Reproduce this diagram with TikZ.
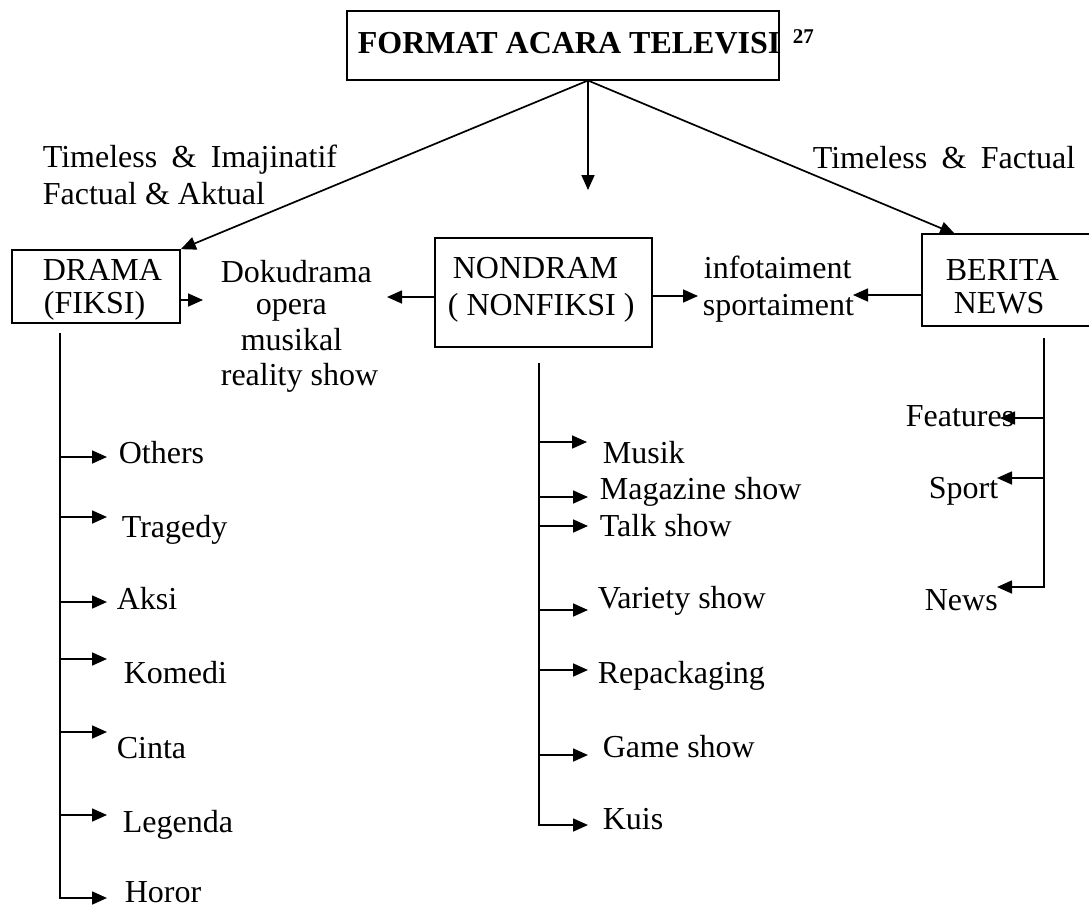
\documentclass[tikz,border=0pt]{standalone}
\usepackage{fontspec}
\setmainfont{Liberation Serif}
\usetikzlibrary{arrows.meta}
\begin{document}
\begin{tikzpicture}[x=1pt,y=-1pt,line width=1.7pt,line join=miter,
  txt/.style={anchor=base west,inner sep=0pt,font=\fontsize{32}{33}\selectfont},
  arr/.style={-{Triangle[length=15pt,width=13pt]}},
  boxshape/.style={draw,inner sep=0pt}]
\useasboundingbox (0,0) rectangle (1089,908);
% title
\node[boxshape,minimum width=432pt,minimum height=69pt] (titlebox) at (563,45.5) {};
\node[anchor=base west,inner sep=0pt,font=\bfseries\fontsize{32}{34}\selectfont] (title) at (357,53) {FORMAT ACARA TELEVISI};
\node[anchor=base west,inner sep=0pt,font=\bfseries\fontsize{21}{22}\selectfont] (sup) at (792,43) {27};
\coordinate (apex) at (588,80.5);
% boxes
\node[boxshape,minimum width=168pt,minimum height=73pt] (dramabox) at (96,286.5) {};
\node[boxshape,minimum width=217pt,minimum height=109pt] (nonbox) at (543.5,292.5) {};
\node[inner sep=0pt,minimum width=166pt,minimum height=90pt] (beritabox) at (1006,280) {};
\draw (beritabox.north east) -- (beritabox.north west) -- (beritabox.south west) -- (beritabox.south east);
% box texts
\node[txt] (dramaA) at (42,280) {DRAMA};
\node[txt] (dramaB) at (43,313) {(FIKSI)};
\node[txt] (nonA) at (452,278) {NONDRAM};
\node[txt] (nonB) at (447,315) {( NONFIKSI )};
\node[txt] (berA) at (945,280) {BERITA};
\node[txt] (berB) at (953,313) {NEWS};
% top labels
\node[txt] (lab1) at (42,167) {Timeless\hspace{0.45em}\&\hspace{0.45em}Imajinatif};
\node[txt] (lab2) at (42,204) {Factual \& Aktual};
\node[txt] (lab3) at (812,168) {Timeless\hspace{0.45em}\&\hspace{0.45em}Factual};
% top arrows
\coordinate (midtip) at (588,190);
\coordinate (bertip) at (955,234);
\draw[arr] (apex) -- (dramabox.north east);
\draw[arr] (apex) -- (midtip);
\draw[arr] (apex) -- (bertip);
% middle texts
\node[txt] (doku) at (220,282) {Dokudrama};
\node[txt] (opera) at (255,314) {opera};
\node[txt] (musikal) at (240,350) {musikal};
\node[txt] (reality) at (220,385) {reality show};
\node[txt] (info) at (703,278) {infotaiment};
\node[txt] (sporta) at (702,315) {sportaiment};
% horizontal arrows
\coordinate (dk) at (203,300);
\coordinate (nl) at (387,297);
\coordinate (nr) at (698,296);
\coordinate (bl) at (853,295);
\draw[arr] (dk -| dramabox.east) -- (dk);
\draw[arr] (nl -| nonbox.west) -- (nl);
\draw[arr] (nr -| nonbox.east) -- (nr);
\draw[arr] (bl -| beritabox.west) -- (bl);
% drama branch
\coordinate (dv) at (60,333);
\coordinate (tOthers) at (107,457);
\coordinate (tTragedy) at (107,517);
\coordinate (tAksi) at (107,602);
\coordinate (tKomedi) at (107,659);
\coordinate (tCinta) at (107,732);
\coordinate (tLegenda) at (107,815);
\coordinate (tHoror) at (107,898);
\draw[arr] (dv) |- (tHoror);
\foreach \n in {Others,Tragedy,Aksi,Komedi,Cinta,Legenda}{\draw[arr] (t\n -| dv) -- (t\n);}
\node[txt] (others) at (118,463) {Others};
\node[txt] (tragedy) at (121,537) {Tragedy};
\node[txt] (aksi) at (116,609) {Aksi};
\node[txt] (komedi) at (123,683) {Komedi};
\node[txt] (cinta) at (116,758) {Cinta};
\node[txt] (legenda) at (122,832) {Legenda};
\node[txt] (horor) at (124,902) {Horor};
% nondrama branch
\coordinate (nv) at (539,363);
\coordinate (tMusik) at (587,442);
\coordinate (tMagazine) at (588,497);
\coordinate (tTalk) at (588,526);
\coordinate (tVariety) at (588,610);
\coordinate (tRepack) at (588,670);
\coordinate (tGame) at (588,755);
\coordinate (tKuis) at (588,825);
\draw[arr] (nv) |- (tKuis);
\foreach \n in {Musik,Magazine,Talk,Variety,Repack,Game}{\draw[arr] (t\n -| nv) -- (t\n);}
\node[txt] (musik) at (602,463) {Musik};
\node[txt] (magazine) at (599,499) {Magazine show};
\node[txt] (talk) at (599,536) {Talk show};
\node[txt] (variety) at (597,608) {Variety show};
\node[txt] (repack) at (597,683) {Repackaging};
\node[txt] (game) at (602,757) {Game show};
\node[txt] (kuis) at (602,829) {Kuis};
% berita branch
\coordinate (bv) at (1044,338);
\coordinate (tFeatures) at (1000,418);
\coordinate (tSport) at (997,478);
\coordinate (tNews) at (997,587);
\draw[arr] (bv) |- (tNews);
\foreach \n in {Features,Sport}{\draw[arr] (t\n -| bv) -- (t\n);}
\node[txt] (features) at (905,426) {Features};
\node[txt] (sport) at (928,498) {Sport};
\node[txt] (news) at (924,610) {News};
\end{tikzpicture}
\end{document}
